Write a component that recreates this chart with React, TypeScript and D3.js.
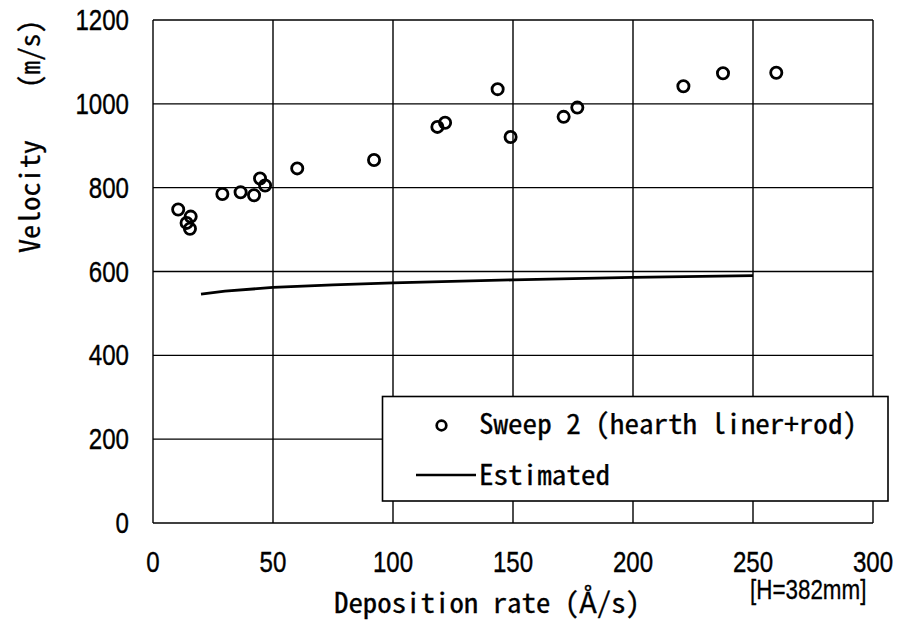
import React from "react";
import * as d3 from "d3";

const sweepX = [10.5, 15.7, 14.0, 15.4, 28.9, 36.5, 42.1, 44.6, 46.7, 60.1, 92.1, 118.5, 121.7, 143.6, 149.0, 171.1, 176.8, 221.0, 237.5, 259.7];
const sweepY = [748, 731, 716, 702, 785, 789, 782, 822, 805, 846, 866, 945, 955, 1035, 921, 969, 991, 1042, 1073, 1074];
const estX = [20, 30, 50, 75, 100, 150, 200, 250];
const estY = [546, 553, 562, 568, 573, 580, 586, 590];
const xTicks = [0, 50, 100, 150, 200, 250, 300];
const yTicks = [0, 200, 400, 600, 800, 1000, 1200];
const legendLabels = ["Sweep 2 (hearth liner+rod)", "Estimated"];

const W = 902, H = 624;
const M = { left: 153, right: 873, top: 20, bottom: 523 };
const monoFont = "'Noto Sans Mono CJK JP', 'DejaVu Sans Mono', monospace";
const numFont = "'Liberation Sans', Arial, sans-serif";
const SX = 0.83;

export default function App() {
  const x = d3.scaleLinear().domain([0, 300]).range([M.left, M.right]);
  const y = d3.scaleLinear().domain([0, 1200]).range([M.bottom, M.top]);
  const line = d3.line<number>().x((_, i) => x(estX[i])).y((v) => y(v));

  return (
    <svg width={W} height={H} style={{ position: "fixed", left: 0, top: 0, background: "#fff" }}>
      <rect x={0} y={0} width={W} height={H} fill="#fff" />
      {/* grid */}
      {xTicks.map((t) => (
        <line key={"gx" + t} x1={x(t)} x2={x(t)} y1={M.top} y2={M.bottom} stroke="#000" strokeWidth={1.4} />
      ))}
      {yTicks.map((t) => (
        <line key={"gy" + t} x1={M.left} x2={M.right} y1={y(t)} y2={y(t)} stroke="#000" strokeWidth={1.4} />
      ))}
      {/* estimated line */}
      <path d={line(estY) || ""} fill="none" stroke="#000" strokeWidth={2.8} />
      {/* points */}
      {sweepY.map((v, i) => (
        <circle key={"p" + i} cx={x(sweepX[i])} cy={y(v)} r={5.6} fill="none" stroke="#000" strokeWidth={2.8} />
      ))}
      {/* tick labels */}
      {xTicks.map((t) => (
        <text key={"tx" + t} transform={`translate(${x(t)},572) scale(${SX},1)`} textAnchor="middle" fontFamily={numFont} fontSize={29} fill="#000" stroke="#000" strokeWidth={0.4}>
          {t}
        </text>
      ))}
      {yTicks.map((t) => (
        <text key={"ty" + t} transform={`translate(129,${y(t) + 10}) scale(${SX},1)`} textAnchor="end" fontFamily={numFont} fontSize={29} fill="#000" stroke="#000" strokeWidth={0.4}>
          {t}
        </text>
      ))}
      {/* axis titles */}
      <text x={487} y={613} textAnchor="middle" fontFamily={monoFont} fontSize={28} textLength={306} lengthAdjust="spacingAndGlyphs" fill="#000" stroke="#000" strokeWidth={0.3}>
        Deposition rate (Å/s)
      </text>
      <text transform="translate(40,0) rotate(-90)" fontFamily={monoFont} fontSize={28} fill="#000" stroke="#000" strokeWidth={0.3}>
        <tspan x={-253} textLength={113} lengthAdjust="spacingAndGlyphs">Velocity</tspan>
        <tspan x={-88} textLength={68} lengthAdjust="spacingAndGlyphs">(m/s)</tspan>
      </text>
      <text transform={`translate(750,599) scale(${SX},1)`} fontFamily={numFont} fontSize={27} fill="#000" stroke="#000" strokeWidth={0.3}>
        [H=382mm]
      </text>
      {/* legend */}
      <rect x={382.5} y={396.5} width={505.5} height={104.5} fill="#fff" stroke="#000" strokeWidth={1.6} />
      <circle cx={441.5} cy={425.5} r={4.8} fill="none" stroke="#000" strokeWidth={2.7} />
      <text x={479} y={434} fontFamily={monoFont} fontSize={28} textLength={378} lengthAdjust="spacingAndGlyphs" fill="#000" stroke="#000" strokeWidth={0.3}>
        {legendLabels[0]}
      </text>
      <line x1={416} x2={476} y1={475} y2={475} stroke="#000" strokeWidth={2.4} />
      <text x={479} y={485} fontFamily={monoFont} fontSize={28} textLength={131} lengthAdjust="spacingAndGlyphs" fill="#000" stroke="#000" strokeWidth={0.3}>
        {legendLabels[1]}
      </text>
    </svg>
  );
}
